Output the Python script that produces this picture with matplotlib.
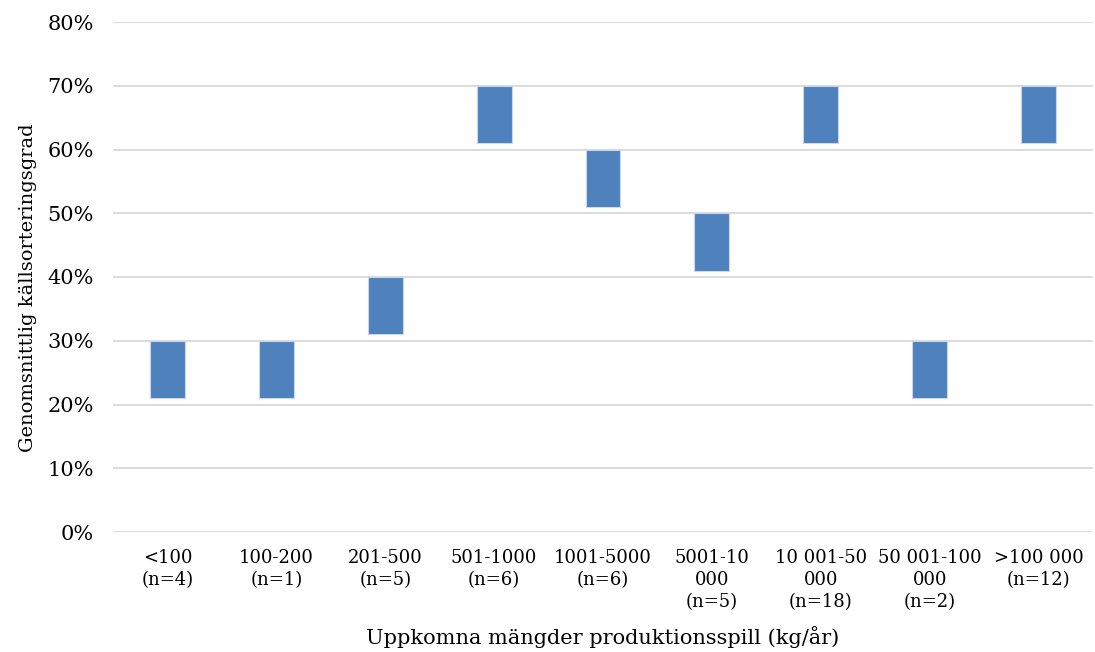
import matplotlib.pyplot as plt
from matplotlib.ticker import FuncFormatter

# kategorier (mängd produktionsspill) och flytande staplar (lägsta/högsta andel)
categories = ['<100\n(n=4)', '100-200\n(n=1)', '201-500\n(n=5)', '501-1000\n(n=6)',
              '1001-5000\n(n=6)', '5001-10\n000\n(n=5)', '10 001-50\n000\n(n=18)',
              '50 001-100\n000\n(n=2)', '>100 000\n(n=12)']
low = [0.21, 0.21, 0.31, 0.61, 0.51, 0.41, 0.61, 0.21, 0.61]
high = [0.30, 0.30, 0.40, 0.70, 0.60, 0.50, 0.70, 0.30, 0.70]

plt.rcParams['font.family'] = ['DejaVu Serif']

fig = plt.figure(figsize=(10.95, 6.52), dpi=100)
ax = fig.add_axes([113 / 1095, 1 - 532 / 652, 980 / 1095, 510 / 652])

x = list(range(len(categories)))
heights = [h - l for h, l in zip(high, low)]
ax.bar(x, heights, bottom=low, width=0.32, color='#4F81BD', edgecolor='#C9D7EA', linewidth=0.8, zorder=3)

ax.set_xlim(-0.5, len(categories) - 0.5)
ax.set_ylim(0, 0.8)
ax.set_yticks([i / 10 for i in range(9)])
ax.yaxis.set_major_formatter(FuncFormatter(lambda v, p: '%d%%' % round(v * 100)))
ax.grid(axis='y', color='#D9D9D9', linewidth=1.3, zorder=0)

ax.set_xticks(x)
ax.set_xticklabels(categories, fontsize=13, linespacing=1.3)
ax.tick_params(axis='y', labelsize=15, length=0, pad=14)
ax.tick_params(axis='x', length=0, pad=12)
for s in ax.spines.values():
    s.set_visible(False)

ax.set_xlabel('Uppkomna mängder produktionsspill (kg/år)', fontsize=15)
ax.xaxis.set_label_coords(0.5, -0.185)
ax.set_ylabel('Genomsnittlig källsorteringsgrad', fontsize=14)
ax.yaxis.set_label_coords(-0.078, 0.48)

fig.savefig('out.png', dpi=100)
